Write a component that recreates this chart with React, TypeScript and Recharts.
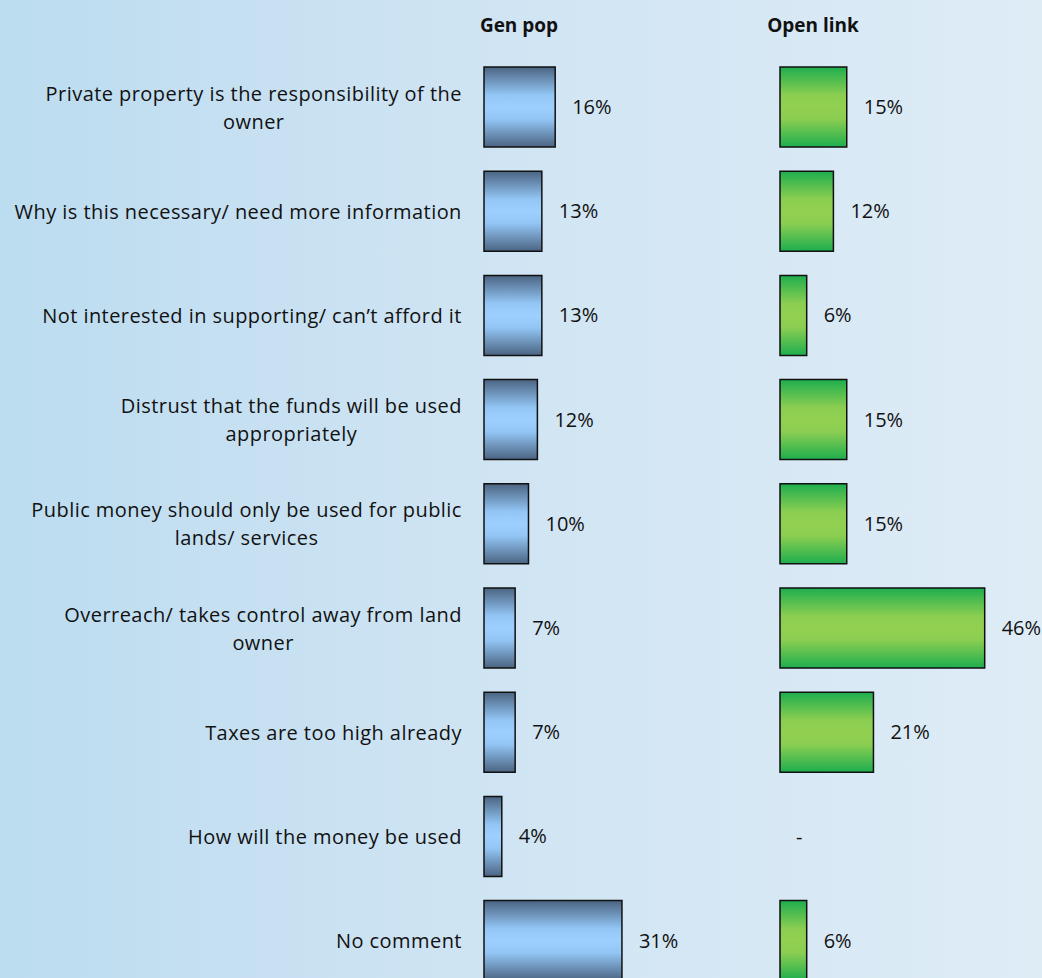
import React from "react";
import { BarChart, Bar, XAxis, YAxis, LabelList } from "recharts";

const categories = [
  "Private property is the responsibility of the\nowner",
  "Why is this necessary/ need more information",
  "Not interested in supporting/ can\u2019t afford it",
  "Distrust that the funds will be used\nappropriately",
  "Public money should only be used for public\nlands/ services",
  "Overreach/ takes control away from land\nowner",
  "Taxes are too high already",
  "How will the money be used",
  "No comment",
];
const genPop = [16, 13, 13, 12, 10, 7, 7, 4, 31];
const openLink = [15, 12, 6, 15, 15, 46, 21, null, 6];

const data = categories.map((c, i) => ({
  category: c,
  genPop: genPop[i],
  openLink: openLink[i],
}));

const FONT = "'Open Sans', sans-serif";
const FONT_SIZE = 20;
const LETTER = 0.45;
const ROW_H = 104.2;
const CHART_H = ROW_H * categories.length;
const PLOT_W = 267;
const AXIS_W = 484;
const RIGHT_AXIS_W = 40;
const TEXT = "#111";

let ctx: CanvasRenderingContext2D | null = null;
function measure(s: string) {
  if (!ctx) ctx = document.createElement("canvas").getContext("2d");
  if (!ctx) return s.length * 9.5;
  ctx.font = `${FONT_SIZE}px ${FONT}`;
  return ctx.measureText(s).width + s.length * LETTER;
}

function CategoryTick(props: any) {
  const { y, payload } = props;
  const lines: string[] = String(payload.value).split("\n");
  const maxW = Math.max(...lines.map(measure));
  const right = 462;
  const cx = right - maxW / 2;
  const lh = 28;
  const y0 = y - ((lines.length - 1) * lh) / 2;
  return (
    <g>
      {lines.map((l, i) => (
        <text
          key={i}
          x={cx}
          y={y0 + i * lh}
          textAnchor="middle"
          dominantBaseline="central"
          fontFamily={FONT}
          fontSize={FONT_SIZE}
          letterSpacing={LETTER}
          fill={TEXT}
        >
          {l}
        </text>
      ))}
    </g>
  );
}

function MissingTick(props: any) {
  const { y, payload } = props;
  const idx = categories.indexOf(payload?.value);
  if (idx < 0 || openLink[idx] != null) return <g />;
  return (
    <text
      x={RIGHT_AXIS_W + 16}
      y={y}
      dominantBaseline="central"
      fontFamily={FONT}
      fontSize={FONT_SIZE}
      fill={TEXT}
    >
      -
    </text>
  );
}

const headerStyle: React.CSSProperties = {
  position: "absolute",
  width: 120,
  top: 12,
  textAlign: "center",
  fontWeight: 700,
  fontSize: 19,
  color: TEXT,
};

export default function App() {
  return (
    <div
      style={{
        position: "fixed",
        left: 0,
        top: 0,
        width: 1042,
        height: 978,
        overflow: "hidden",
        background: "linear-gradient(to right, #bcdcf0 0%, #cfe4f3 45%, #deecf6 100%)",
        fontFamily: FONT,
      }}
    >
      <svg width={0} height={0} style={{ position: "absolute" }}>
        <defs>
          <linearGradient id="blueGrad" x1="0" y1="0" x2="0" y2="1">
            <stop offset="0%" stopColor="#4b6482" />
            <stop offset="35%" stopColor="#93c6f5" />
            <stop offset="50%" stopColor="#9dcfff" />
            <stop offset="65%" stopColor="#93c6f5" />
            <stop offset="100%" stopColor="#4b6482" />
          </linearGradient>
          <linearGradient id="greenGrad" x1="0" y1="0" x2="0" y2="1">
            <stop offset="0%" stopColor="#1eae4e" />
            <stop offset="35%" stopColor="#8bce51" />
            <stop offset="50%" stopColor="#92d050" />
            <stop offset="65%" stopColor="#8bce51" />
            <stop offset="100%" stopColor="#1eae4e" />
          </linearGradient>
        </defs>
      </svg>
      <div style={{ ...headerStyle, left: 459 }}>Gen pop</div>
      <div style={{ ...headerStyle, left: 753 }}>Open link</div>
      <div style={{ position: "absolute", left: 0, top: 55 }}>
        <BarChart
          width={AXIS_W + PLOT_W}
          height={CHART_H}
          data={data}
          layout="vertical"
          margin={{ top: 0, right: 0, bottom: 0, left: 0 }}
        >
          <XAxis type="number" domain={[0, 60]} hide />
          <YAxis
            type="category"
            dataKey="category"
            width={AXIS_W}
            axisLine={false}
            tickLine={false}
            tick={<CategoryTick />}
            interval={0}
          />
          <Bar
            dataKey="genPop"
            barSize={80}
            fill="url(#blueGrad)"
            stroke="#111"
            strokeWidth={1.5}
            isAnimationActive={false}
          >
            <LabelList
              dataKey="genPop"
              position="right"
              offset={17}
              formatter={(v: any) => `${v}%`}
              style={{ fontFamily: FONT, fontSize: FONT_SIZE, fill: TEXT }}
            />
          </Bar>
        </BarChart>
      </div>
      <div style={{ position: "absolute", left: 780 - RIGHT_AXIS_W, top: 55 }}>
        <BarChart
          width={RIGHT_AXIS_W + PLOT_W}
          height={CHART_H}
          data={data}
          layout="vertical"
          margin={{ top: 0, right: 0, bottom: 0, left: 0 }}
        >
          <XAxis type="number" domain={[0, 60]} hide />
          <YAxis
            type="category"
            dataKey="category"
            width={RIGHT_AXIS_W}
            axisLine={false}
            tickLine={false}
            tick={<MissingTick />}
            interval={0}
          />
          <Bar
            dataKey="openLink"
            barSize={80}
            fill="url(#greenGrad)"
            stroke="#111"
            strokeWidth={1.5}
            isAnimationActive={false}
          >
            <LabelList
              dataKey="openLink"
              position="right"
              offset={17}
              formatter={(v: any) => (v == null ? "" : `${v}%`)}
              style={{ fontFamily: FONT, fontSize: FONT_SIZE, fill: TEXT }}
            />
          </Bar>
        </BarChart>
      </div>
    </div>
  );
}
